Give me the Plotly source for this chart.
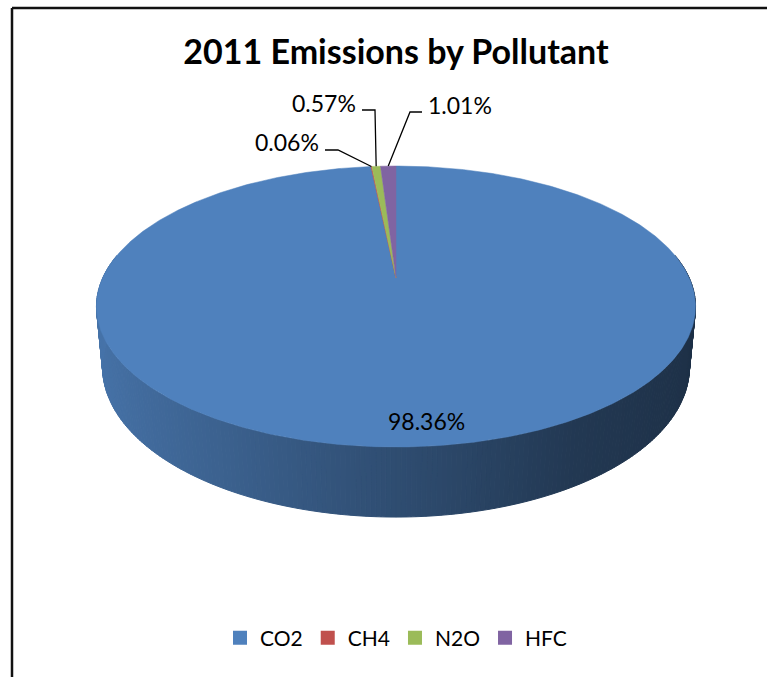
import numpy as np
import plotly.graph_objects as go

# ---- data -------------------------------------------------------------
pollutants = ["CO2", "CH4", "N2O", "HFC"]
shares = [98.36, 0.06, 0.57, 1.01]          # percent of 2011 emissions
slice_colors = ["#4F81BD", "#C0504D", "#9BBB59", "#8064A2"]
title_text = "2011 Emissions by Pollutant"

# ---- canvas / pie geometry (pixel space) ------------------------------
W, H = 767, 677
CX, CY = 396.0, 278.0        # pie centre on screen
RX, RY = 293.3, 134.7        # radii of the tilted disc
K = 0.203                    # perspective: front of the disc looks larger
DEPTH_Y, DEPTH_W = 60.6, 0.02  # disc thickness
FONT = "Lato"


def project(theta, r=1.0, bottom=False):
    """Angle clockwise from 12 o'clock -> screen pixel (x, y-down)."""
    u = r * np.sin(theta)
    v = r * np.cos(theta)
    w = 1 + K * v + (DEPTH_W if bottom else 0.0)
    drop = DEPTH_Y if bottom else 0.0
    return CX + RX * u / w, CY - (RY * v - drop) / w


def shade(hex_color, theta):
    """Darken the side wall from left (lit) to right (shadow)."""
    s = np.sin(theta)
    m = np.interp(s, [-1, -0.5, 0, 0.5, 1], [0.90, 0.76, 0.60, 0.44, 0.37])
    r, g, b = (int(hex_color[i:i + 2], 16) for i in (1, 3, 5))
    return f"rgb({int(r * m)},{int(g * m)},{int(b * m)})"


total = float(sum(shares))
bounds = np.concatenate([[0.0], np.cumsum(shares)]) / total * 2 * np.pi
starts, ends = bounds[:-1], bounds[1:]

fig = go.Figure()

# ---- side wall (front half of the disc) -------------------------------
vis_lo, vis_hi = np.radians(80), np.radians(280)
step = np.radians(0.8)
for a0, a1, col in zip(starts, ends, slice_colors):
    lo, hi = max(a0, vis_lo), min(a1, vis_hi)
    if lo >= hi:
        continue
    n = max(1, int(np.ceil((hi - lo) / step)))
    edges = np.linspace(lo, hi, n + 1)
    for t0, t1 in zip(edges[:-1], edges[1:]):
        xt0, yt0 = project(t0)
        xt1, yt1 = project(t1)
        xb1, yb1 = project(t1, bottom=True)
        xb0, yb0 = project(t0, bottom=True)
        c = shade(col, 0.5 * (t0 + t1))
        fig.add_trace(go.Scatter(
            x=[xt0, xt1, xb1, xb0, xt0], y=[yt0, yt1, yb1, yb0, yt0],
            mode="lines", fill="toself", fillcolor=c,
            line=dict(color=c, width=1), hoverinfo="skip", showlegend=False))

# ---- top face ---------------------------------------------------------
for name, a0, a1, col, val in zip(pollutants, starts, ends, slice_colors, shares):
    th = np.linspace(a0, a1, max(3, int(np.degrees(a1 - a0) * 2)))
    ax_, ay_ = project(th)
    xs = np.concatenate([[CX], ax_, [CX]])
    ys = np.concatenate([[CY], ay_, [CY]])
    fig.add_trace(go.Scatter(
        x=xs, y=ys, mode="lines", fill="toself", fillcolor=col,
        line=dict(color=col, width=0.5), name=name,
        hovertemplate=f"{name}: {val:.2f}%<extra></extra>", showlegend=False))

# ---- data labels with leader lines -------------------------------------
mids = 0.5 * (starts + ends)
label_pos = {            # text anchor, elbow, leader end, alignment
    "CH4": dict(text=(321, 142), elbow=(338, 150), end=(325, 150), anchor="right"),
    "N2O": dict(text=(358, 103), elbow=(375, 110), end=(362, 110), anchor="right"),
    "HFC": dict(text=(426, 105), elbow=(410, 112), end=(422, 112), anchor="left"),
}
for name, mid, val in zip(pollutants, mids, shares):
    txt = f"{val:.2f}%"
    if name in label_pos:
        p = label_pos[name]
        rx, ry = project(mid)
        fig.add_trace(go.Scatter(
            x=[rx, p["elbow"][0], p["end"][0]], y=[ry, p["elbow"][1], p["end"][1]],
            mode="lines", line=dict(color="black", width=1.3),
            hoverinfo="skip", showlegend=False))
        fig.add_annotation(x=p["text"][0], y=p["text"][1], text=txt,
                           showarrow=False, xanchor=p["anchor"], yanchor="middle",
                           font=dict(family=FONT, size=23, color="black"))
    else:
        fig.add_annotation(x=426, y=421, text=txt, showarrow=False,
                           xanchor="center", yanchor="middle",
                           font=dict(family=FONT, size=23, color="black"))

# ---- legend entries -----------------------------------------------------
for name, col in zip(pollutants, slice_colors):
    fig.add_trace(go.Scatter(
        x=[None], y=[None], mode="markers", name=name,
        marker=dict(symbol="square", size=14, color=col)))

# ---- frame --------------------------------------------------------------
fig.add_shape(type="line", xref="paper", yref="paper",
              x0=12 / W, x1=12 / W, y0=0, y1=1 - 8 / H,
              line=dict(color="#111", width=2.5))
fig.add_shape(type="line", xref="paper", yref="paper",
              x0=12 / W, x1=1, y0=1 - 8 / H, y1=1 - 8 / H,
              line=dict(color="#111", width=2.5))

fig.update_layout(
    width=W, height=H,
    margin=dict(l=0, r=0, t=0, b=0),
    paper_bgcolor="white", plot_bgcolor="white",
    xaxis=dict(range=[0, W], visible=False, fixedrange=True),
    yaxis=dict(range=[H, 0], visible=False, fixedrange=True),
    title=dict(text=f"<b>{title_text}</b>", x=396 / W, xanchor="center",
               y=1 - 52 / H, yanchor="middle",
               font=dict(family=FONT, size=34, color="black")),
    legend=dict(orientation="h", x=396 / W, xanchor="center",
                y=1 - 638 / H, yanchor="middle",
                font=dict(family=FONT, size=21, color="black"),
                itemwidth=30, tracegroupgap=0),
    showlegend=True,
)

fig.write_html("out.html")
